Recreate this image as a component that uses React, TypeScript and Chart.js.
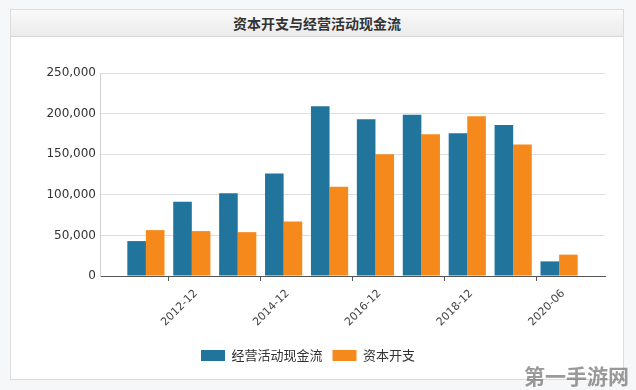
import React, { useEffect, useRef } from "react";
import { Chart, registerables } from "chart.js";

Chart.register(...registerables);

const categories = ["", "2011-12", "2012-12", "2013-12", "2014-12", "2015-12", "2016-12", "2017-12", "2018-12", "2019-12", "2020-06", ""];
const shownLabels = ["2012-12", "2014-12", "2016-12", "2018-12", "2020-06"];
const operatingCashFlow = [null, 43000, 91400, 102000, 126200, 209000, 193000, 198700, 175800, 186000, 18000, null];
const capex = [null, 56500, 55300, 54000, 67200, 110000, 150000, 174500, 196700, 162000, 26300, null];
const yTicks = [0, 50000, 100000, 150000, 200000, 250000];

const seriesNames = ["经营活动现金流", "资本开支"];
const titleText = "资本开支与经营活动现金流";
const watermark = "第一手游网";

export default function App() {
  const ref = useRef<HTMLCanvasElement | null>(null);

  useEffect(() => {
    document.body.style.margin = "0";
    const canvas = ref.current;
    if (!canvas) return;
    const chart = new Chart(canvas, {
      type: "bar",
      data: {
        labels: categories,
        datasets: [
          {
            label: seriesNames[0],
            data: operatingCashFlow,
            backgroundColor: "#21759c",
            categoryPercentage: 0.81,
            barPercentage: 1,
          },
          {
            label: seriesNames[1],
            data: capex,
            backgroundColor: "#f5891c",
            categoryPercentage: 0.81,
            barPercentage: 1,
          },
        ],
      },
      options: {
        animation: false,
        responsive: false,
        devicePixelRatio: 1,
        layout: { padding: { left: 0, right: 18, top: 36, bottom: 7 } },
        plugins: {
          title: { display: false },
          tooltip: { enabled: false },
          legend: {
            position: "bottom",
            labels: {
              boxWidth: 24,
              boxHeight: 11,
              padding: 10,
              color: "#333",
              font: { family: "'Noto Sans CJK SC', 'DejaVu Sans', sans-serif", size: 13 },
            },
          },
        },
        scales: {
          x: {
            type: "category",
            offset: false,
            border: { display: true, color: "#555", width: 1 },
            grid: {
              display: true,
              drawOnChartArea: false,
              drawTicks: true,
              tickLength: 5,
              color: (ctx: any) => {
                const lbl = categories[ctx.index];
                return shownLabels.includes(lbl) ? "#555" : "rgba(0,0,0,0)";
              },
            },
            ticks: {
              autoSkip: false,
              maxRotation: 45,
              minRotation: 45,
              padding: 6,
              labelOffset: 4,
              color: "#444",
              font: { family: "'DejaVu Sans', sans-serif", size: 11 },
              callback: (_v: any, i: number) => (shownLabels.includes(categories[i]) ? categories[i] : ""),
            },
            afterFit: (scale: any) => {
              scale.height = 63;
            },
          },
          y: {
            min: 0,
            max: 250000,
            border: { display: true, color: "#d0d0d0", width: 1 },
            grid: { color: "#dedede", drawTicks: false, lineWidth: 1 },
            afterBuildTicks: (scale: any) => {
              scale.ticks = yTicks.map((v) => ({ value: v }));
            },
            ticks: {
              padding: 4,
              color: "#333",
              font: { family: "'DejaVu Sans', sans-serif", size: 12 },
              callback: (v: any) => Number(v).toLocaleString("en-US"),
            },
            afterFit: (scale: any) => {
              scale.width = 89;
            },
          },
        },
      },
    });
    return () => chart.destroy();
  }, []);

  return (
    <div style={{ position: "fixed", left: 0, top: 0, width: 636, height: 390, background: "#f6f7f9", overflow: "hidden" }}>
      <div
        style={{
          position: "absolute",
          left: 10,
          top: 9,
          width: 614,
          height: 371,
          boxSizing: "border-box",
          background: "#fff",
          border: "1px solid #dcdcdc",
        }}
      >
        <div
          style={{
            height: 27,
            boxSizing: "border-box",
            background: "linear-gradient(#fafafa, #ebebeb)",
            borderBottom: "1px solid #d6d6d6",
            textAlign: "center",
            lineHeight: "26px",
            fontFamily: "'Noto Sans CJK SC', sans-serif",
            fontWeight: "bold",
            fontSize: 14,
            color: "#333",
          }}
        >
          {titleText}
        </div>
      </div>
      <canvas ref={ref} width={612} height={342} style={{ position: "absolute", left: 11, top: 37, width: 612, height: 342 }} />
      <div
        style={{
          position: "absolute",
          left: 524,
          top: 360,
          fontFamily: "'Noto Sans CJK SC', sans-serif",
          fontWeight: "bold",
          fontSize: 21,
          color: "rgba(120,120,120,0.75)",
          letterSpacing: 0,
          whiteSpace: "nowrap",
        }}
      >
        {watermark}
      </div>
    </div>
  );
}
